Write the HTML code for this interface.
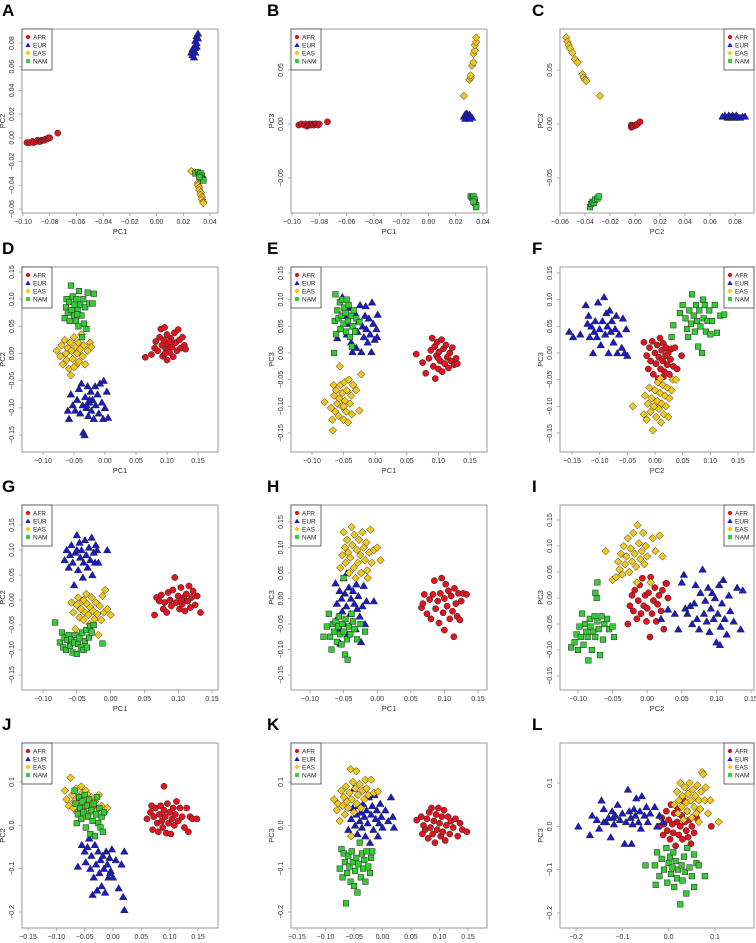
<!DOCTYPE html>
<html><head><meta charset="utf-8"><style>
body{margin:0;background:#fff}
svg{display:block;font-family:"Liberation Sans",sans-serif}
</style></head><body>
<svg id="fig" width="756" height="943" viewBox="0 0 756 943" xmlns="http://www.w3.org/2000/svg"></svg>
<script>
const groups=["AFR","EUR","EAS","NAM"];
const groupColors=["#e0141e","#1a1acc","#f2c81e","#33cc33"];
const ticks2a=[-0.10,-0.08,-0.06,-0.04,-0.02,0.00,0.02,0.04];
const ticksA_y=[-0.06,-0.04,-0.02,0.00,0.02,0.04,0.06,0.08];
const ticksBC_y=[-0.05,0.00,0.05];
const ticksC_x=[-0.06,-0.04,-0.02,0.00,0.02,0.04,0.06,0.08];
const ticks15=[-0.15,-0.10,-0.05,0.00,0.05,0.10,0.15];
const ticksJ_y=[-0.2,-0.1,0.0,0.1];
const ticksL_x=[-0.2,-0.1,0.0,0.1];

const A_AFR=[[-0.097,-0.004],[-0.095,-0.004],[-0.093,-0.003],[-0.092,-0.004],[-0.090,-0.003],[-0.089,-0.002],[-0.088,-0.003],[-0.087,-0.003],[-0.086,-0.002],[-0.085,-0.002],[-0.084,-0.002],[-0.083,-0.001],[-0.082,-0.001],[-0.081,0.000],[-0.080,0.000],[-0.074,0.004]];
const A_EUR=[[0.027,0.070],[0.028,0.068],[0.026,0.072],[0.028,0.074],[0.029,0.076],[0.027,0.075],[0.029,0.078],[0.030,0.080],[0.029,0.082],[0.031,0.084],[0.030,0.086],[0.031,0.088],[0.029,0.072],[0.030,0.077]];
const A_EAS=[[0.026,-0.028],[0.031,-0.038],[0.031,-0.040],[0.032,-0.042],[0.032,-0.044],[0.033,-0.046],[0.033,-0.048],[0.034,-0.050],[0.034,-0.052],[0.035,-0.054],[0.035,-0.055]];
const A_NAM=[[0.029,-0.030],[0.031,-0.029],[0.032,-0.031],[0.033,-0.030],[0.034,-0.032],[0.033,-0.034],[0.035,-0.035],[0.035,-0.036],[0.032,-0.033]];
const B_AFR=[[-0.095,-0.001],[-0.093,0.000],[-0.091,-0.001],[-0.090,0.000],[-0.089,-0.002],[-0.088,-0.001],[-0.087,0.000],[-0.086,-0.001],[-0.085,0.000],[-0.084,-0.001],[-0.083,0.000],[-0.082,0.000],[-0.081,-0.001],[-0.080,0.000],[-0.074,0.002]];
const B_EUR=[[0.026,0.007],[0.027,0.009],[0.028,0.010],[0.029,0.008],[0.030,0.009],[0.031,0.007],[0.032,0.006],[0.029,0.006],[0.027,0.005],[0.030,0.005]];
const B_EAS=[[0.026,0.026],[0.030,0.041],[0.031,0.043],[0.031,0.045],[0.032,0.054],[0.033,0.057],[0.033,0.065],[0.034,0.068],[0.034,0.073],[0.035,0.076],[0.035,0.080]];
const B_NAM=[[0.031,-0.067],[0.032,-0.068],[0.033,-0.067],[0.034,-0.070],[0.034,-0.073],[0.035,-0.075],[0.035,-0.077],[0.033,-0.072]];
const C_AFR=[[-0.003,-0.001],[-0.003,-0.003],[-0.002,-0.002],[-0.001,-0.002],[0.000,-0.001],[0.001,-0.001],[0.002,0.000],[0.004,0.002]];
const C_EUR=[[0.070,0.007],[0.072,0.008],[0.074,0.006],[0.075,0.008],[0.076,0.007],[0.077,0.006],[0.078,0.008],[0.079,0.007],[0.080,0.006],[0.081,0.008],[0.082,0.007],[0.084,0.006],[0.086,0.007],[0.088,0.007]];
const C_EAS=[[-0.055,0.080],[-0.054,0.076],[-0.053,0.073],[-0.052,0.070],[-0.050,0.066],[-0.048,0.060],[-0.046,0.057],[-0.042,0.046],[-0.041,0.043],[-0.040,0.041],[-0.039,0.040],[-0.028,0.026]];
const C_NAM=[[-0.036,-0.077],[-0.035,-0.074],[-0.034,-0.072],[-0.033,-0.073],[-0.032,-0.070],[-0.030,-0.069],[-0.029,-0.067]];
const D_AFR=[[0.065,-0.007],[0.075,-0.002],[0.080,0.010],[0.082,0.022],[0.085,0.005],[0.088,0.030],[0.090,0.045],[0.092,0.015],[0.093,-0.005],[0.095,0.025],[0.096,0.048],[0.098,0.008],[0.100,0.035],[0.100,-0.012],[0.102,0.018],[0.104,0.002],[0.106,0.028],[0.108,0.012],[0.110,-0.006],[0.112,0.038],[0.114,0.020],[0.116,0.005],[0.118,0.044],[0.120,0.025],[0.122,0.010],[0.125,0.030],[0.128,0.015],[0.130,0.008],[0.105,0.022],[0.097,0.000]];
const D_EUR=[[-0.060,-0.105],[-0.058,-0.120],[-0.055,-0.075],[-0.052,-0.095],[-0.048,-0.105],[-0.045,-0.085],[-0.042,-0.065],[-0.040,-0.110],[-0.038,-0.055],[-0.036,-0.095],[-0.035,-0.145],[-0.033,-0.150],[-0.032,-0.080],[-0.030,-0.100],[-0.028,-0.060],[-0.027,-0.115],[-0.025,-0.090],[-0.023,-0.070],[-0.022,-0.105],[-0.020,-0.085],[-0.018,-0.120],[-0.016,-0.060],[-0.015,-0.095],[-0.012,-0.075],[-0.010,-0.110],[-0.008,-0.055],[-0.005,-0.090],[-0.003,-0.120],[0.000,-0.100],[0.003,-0.070],[0.005,-0.118],[-0.002,-0.050],[-0.025,-0.085],[-0.030,-0.095]];
const D_EAS=[[-0.078,0.005],[-0.072,-0.005],[-0.070,0.015],[-0.068,-0.020],[-0.065,0.025],[-0.063,0.000],[-0.062,-0.012],[-0.060,0.010],[-0.058,-0.028],[-0.056,0.020],[-0.055,-0.040],[-0.054,0.005],[-0.052,-0.010],[-0.050,0.030],[-0.048,0.012],[-0.047,-0.022],[-0.045,0.000],[-0.043,0.020],[-0.042,-0.015],[-0.040,0.008],[-0.038,0.035],[-0.036,-0.005],[-0.034,0.015],[-0.032,-0.020],[-0.028,0.005],[-0.024,0.020],[-0.022,0.012],[-0.050,-0.025]];
const D_NAM=[[-0.065,0.065],[-0.063,0.085],[-0.062,0.100],[-0.060,0.075],[-0.058,0.095],[-0.057,0.060],[-0.055,0.125],[-0.054,0.080],[-0.052,0.105],[-0.050,0.070],[-0.049,0.090],[-0.047,0.060],[-0.046,0.100],[-0.044,0.080],[-0.043,0.050],[-0.042,0.115],[-0.040,0.090],[-0.038,0.070],[-0.037,0.030],[-0.035,0.100],[-0.034,0.055],[-0.032,0.085],[-0.030,0.045],[-0.028,0.112],[-0.025,0.092],[-0.020,0.092],[-0.018,0.110],[-0.045,0.072]];
const E_AFR=[[0.065,-0.002],[0.075,-0.018],[0.080,-0.038],[0.085,-0.010],[0.088,0.005],[0.090,0.028],[0.092,-0.025],[0.094,0.012],[0.095,-0.048],[0.097,-0.005],[0.098,0.020],[0.100,-0.030],[0.101,0.002],[0.103,-0.015],[0.105,0.025],[0.106,-0.035],[0.108,0.008],[0.110,-0.020],[0.112,0.015],[0.114,-0.008],[0.116,-0.028],[0.118,0.000],[0.120,-0.015],[0.122,0.010],[0.125,-0.022],[0.128,-0.010],[0.130,-0.020],[0.100,-0.010]];
const E_EUR=[[-0.060,0.028],[-0.055,0.045],[-0.052,0.105],[-0.048,0.070],[-0.045,0.035],[-0.042,0.055],[-0.040,0.085],[-0.038,0.020],[-0.035,0.050],[-0.032,0.075],[-0.030,0.010],[-0.028,0.040],[-0.026,0.060],[-0.024,0.090],[-0.022,0.002],[-0.020,0.050],[-0.018,0.030],[-0.016,0.070],[-0.014,0.045],[-0.012,0.020],[-0.010,0.065],[-0.008,0.035],[-0.006,0.002],[-0.005,0.095],[-0.003,0.055],[-0.001,0.025],[0.002,0.045],[0.004,0.072],[0.003,0.030],[-0.015,0.088],[-0.036,0.002]];
const E_EAS=[[-0.080,-0.092],[-0.070,-0.103],[-0.068,-0.125],[-0.067,-0.145],[-0.066,-0.060],[-0.065,-0.080],[-0.063,-0.110],[-0.062,-0.070],[-0.060,-0.095],[-0.058,-0.118],[-0.057,-0.085],[-0.056,-0.025],[-0.055,-0.060],[-0.053,-0.100],[-0.052,-0.075],[-0.050,-0.125],[-0.049,-0.055],[-0.048,-0.090],[-0.046,-0.110],[-0.045,-0.070],[-0.043,-0.130],[-0.042,-0.050],[-0.040,-0.095],[-0.038,-0.080],[-0.037,-0.115],[-0.035,-0.060],[-0.030,-0.070],[-0.025,-0.108],[-0.022,-0.040],[-0.050,-0.100]];
const E_NAM=[[-0.065,0.000],[-0.064,0.060],[-0.063,0.110],[-0.062,0.035],[-0.060,0.080],[-0.058,0.065],[-0.056,0.095],[-0.055,0.045],[-0.053,0.070],[-0.052,0.100],[-0.050,0.055],[-0.049,0.085],[-0.047,0.075],[-0.046,0.040],[-0.045,0.100],[-0.043,0.060],[-0.042,0.090],[-0.040,0.030],[-0.038,0.070],[-0.037,0.012],[-0.036,0.050],[-0.034,0.080],[-0.032,0.040],[-0.030,0.065],[-0.025,0.058]];
const F_AFR=[[-0.020,0.020],[-0.015,-0.005],[-0.012,-0.030],[-0.010,0.010],[-0.008,-0.015],[-0.005,0.022],[-0.003,-0.040],[0.000,0.000],[0.002,-0.020],[0.004,0.015],[0.006,-0.048],[0.007,-0.008],[0.009,0.028],[0.010,-0.030],[0.012,0.005],[0.014,-0.015],[0.015,0.018],[0.017,-0.035],[0.019,-0.005],[0.020,0.010],[0.022,-0.022],[0.024,0.000],[0.026,-0.040],[0.028,-0.012],[0.030,0.008],[0.033,-0.025],[0.036,0.010],[0.040,-0.030],[0.048,-0.005],[0.015,-0.045]];
const F_EUR=[[-0.155,0.040],[-0.148,0.030],[-0.135,0.035],[-0.125,0.090],[-0.122,0.055],[-0.120,0.070],[-0.118,0.030],[-0.115,0.050],[-0.112,0.000],[-0.110,0.040],[-0.108,0.060],[-0.105,0.030],[-0.103,0.095],[-0.100,0.045],[-0.098,0.015],[-0.095,0.060],[-0.092,0.105],[-0.090,0.035],[-0.088,0.075],[-0.086,0.050],[-0.084,0.000],[-0.082,0.080],[-0.080,0.040],[-0.078,0.060],[-0.075,0.020],[-0.072,0.045],[-0.070,0.070],[-0.068,0.000],[-0.065,0.035],[-0.060,0.010],[-0.058,0.065],[-0.055,0.000],[-0.050,-0.005],[-0.052,0.045]];
const F_EAS=[[-0.040,-0.100],[-0.020,-0.115],[-0.018,-0.080],[-0.015,-0.125],[-0.013,-0.095],[-0.010,-0.065],[-0.008,-0.110],[-0.006,-0.085],[-0.004,-0.145],[-0.002,-0.100],[0.000,-0.070],[0.002,-0.120],[0.004,-0.090],[0.005,-0.055],[0.007,-0.105],[0.009,-0.075],[0.011,-0.130],[0.012,-0.095],[0.014,-0.060],[0.016,-0.115],[0.018,-0.080],[0.020,-0.100],[0.022,-0.065],[0.024,-0.120],[0.026,-0.085],[0.030,-0.070],[0.032,-0.050],[0.038,-0.050],[0.010,-0.048]];
const F_NAM=[[0.030,0.030],[0.033,0.052],[0.045,0.075],[0.050,0.090],[0.055,0.065],[0.058,0.045],[0.060,0.030],[0.062,0.080],[0.065,0.055],[0.067,0.110],[0.070,0.070],[0.072,0.040],[0.074,0.090],[0.076,0.060],[0.078,0.012],[0.080,0.080],[0.082,0.050],[0.085,0.000],[0.087,0.100],[0.088,0.065],[0.090,0.090],[0.092,0.040],[0.095,0.060],[0.098,0.080],[0.100,0.035],[0.103,0.060],[0.108,0.090],[0.112,0.038],[0.118,0.070],[0.125,0.072]];
const G_AFR=[[0.065,-0.030],[0.068,0.005],[0.072,-0.002],[0.075,0.010],[0.078,-0.018],[0.080,-0.005],[0.083,-0.025],[0.085,0.015],[0.088,0.000],[0.090,-0.012],[0.092,0.020],[0.095,0.045],[0.097,-0.005],[0.100,0.008],[0.102,-0.018],[0.104,0.025],[0.106,-0.008],[0.108,0.005],[0.110,-0.022],[0.112,0.012],[0.114,-0.002],[0.116,0.028],[0.118,-0.015],[0.120,0.005],[0.122,0.018],[0.125,-0.010],[0.128,0.008],[0.133,-0.025],[0.105,0.000]];
const G_EUR=[[-0.068,0.080],[-0.065,0.100],[-0.062,0.065],[-0.060,0.090],[-0.058,0.110],[-0.056,0.075],[-0.054,0.030],[-0.052,0.095],[-0.050,0.130],[-0.048,0.060],[-0.046,0.115],[-0.045,0.085],[-0.043,0.100],[-0.041,0.045],[-0.040,0.075],[-0.038,0.120],[-0.036,0.090],[-0.034,0.065],[-0.032,0.105],[-0.030,0.080],[-0.028,0.125],[-0.027,0.050],[-0.025,0.095],[-0.023,0.075],[-0.022,0.110],[-0.020,0.100],[-0.018,0.075],[-0.005,0.100],[-0.050,0.100]];
const G_EAS=[[-0.058,-0.005],[-0.055,-0.025],[-0.052,-0.058],[-0.050,-0.010],[-0.048,0.005],[-0.046,-0.035],[-0.044,-0.018],[-0.042,-0.002],[-0.040,-0.040],[-0.038,-0.025],[-0.036,0.012],[-0.035,-0.008],[-0.033,-0.030],[-0.031,-0.048],[-0.030,-0.015],[-0.028,0.005],[-0.026,-0.022],[-0.024,-0.038],[-0.022,-0.005],[-0.020,-0.028],[-0.018,-0.070],[-0.016,-0.012],[-0.014,-0.040],[-0.012,0.008],[-0.010,-0.025],[-0.008,0.020],[-0.005,-0.018],[0.000,-0.030],[-0.040,0.000]];
const G_NAM=[[-0.082,-0.045],[-0.075,-0.085],[-0.072,-0.065],[-0.070,-0.095],[-0.068,-0.075],[-0.066,-0.100],[-0.064,-0.080],[-0.062,-0.070],[-0.060,-0.092],[-0.058,-0.078],[-0.056,-0.105],[-0.054,-0.085],[-0.052,-0.070],[-0.050,-0.108],[-0.048,-0.088],[-0.046,-0.075],[-0.044,-0.095],[-0.042,-0.065],[-0.040,-0.100],[-0.038,-0.082],[-0.036,-0.060],[-0.035,-0.095],[-0.032,-0.075],[-0.030,-0.052],[-0.028,-0.065],[-0.025,-0.050],[-0.012,-0.087]];
const H_AFR=[[0.066,-0.018],[0.068,-0.010],[0.070,0.008],[0.074,-0.030],[0.078,-0.002],[0.080,-0.040],[0.083,0.008],[0.085,0.035],[0.087,-0.020],[0.090,-0.005],[0.092,-0.048],[0.094,0.010],[0.096,0.040],[0.098,-0.028],[0.100,0.000],[0.100,-0.062],[0.102,0.028],[0.104,-0.015],[0.106,0.015],[0.108,-0.040],[0.110,0.005],[0.112,-0.025],[0.114,-0.075],[0.115,0.020],[0.117,-0.010],[0.119,-0.035],[0.121,0.010],[0.123,-0.042],[0.125,-0.005],[0.128,0.010],[0.133,0.008]];
const H_EUR=[[-0.062,0.030],[-0.060,-0.010],[-0.058,-0.035],[-0.056,0.015],[-0.055,-0.060],[-0.053,0.000],[-0.052,-0.025],[-0.050,0.040],[-0.049,-0.050],[-0.048,0.010],[-0.046,-0.015],[-0.045,0.050],[-0.044,-0.070],[-0.042,0.022],[-0.040,-0.030],[-0.039,0.000],[-0.037,-0.045],[-0.036,0.015],[-0.034,-0.010],[-0.032,-0.060],[-0.031,0.028],[-0.030,-0.020],[-0.028,0.005],[-0.026,-0.035],[-0.024,-0.085],[-0.022,-0.015],[-0.020,0.025],[-0.018,-0.050],[-0.016,-0.005],[-0.005,-0.005],[-0.055,-0.088]];
const H_EAS=[[-0.055,0.060],[-0.052,0.085],[-0.050,0.130],[-0.048,0.100],[-0.047,0.070],[-0.045,0.115],[-0.043,0.090],[-0.042,0.050],[-0.040,0.080],[-0.038,0.140],[-0.037,0.105],[-0.035,0.060],[-0.034,0.125],[-0.032,0.040],[-0.030,0.095],[-0.029,0.070],[-0.027,0.115],[-0.025,0.085],[-0.024,0.050],[-0.022,0.130],[-0.020,0.100],[-0.018,0.075],[-0.016,0.110],[-0.014,0.040],[-0.012,0.090],[-0.010,0.135],[-0.008,0.070],[-0.005,0.095],[0.000,0.100],[0.005,0.075],[-0.015,0.055]];
const H_NAM=[[-0.080,-0.075],[-0.075,-0.055],[-0.072,-0.030],[-0.070,-0.075],[-0.068,-0.100],[-0.066,-0.050],[-0.064,-0.065],[-0.062,-0.045],[-0.060,-0.085],[-0.058,-0.055],[-0.057,-0.035],[-0.055,-0.070],[-0.053,-0.090],[-0.052,-0.050],[-0.050,-0.065],[-0.048,-0.110],[-0.047,-0.040],[-0.045,-0.080],[-0.044,-0.120],[-0.042,-0.055],[-0.040,-0.070],[-0.038,-0.030],[-0.036,-0.045],[-0.034,-0.060],[-0.030,-0.080],[-0.025,-0.050],[-0.018,-0.065],[-0.050,0.040]];
const I_AFR=[[-0.028,-0.050],[-0.025,-0.015],[-0.022,0.005],[-0.020,-0.025],[-0.018,0.015],[-0.015,-0.040],[-0.013,-0.005],[-0.011,0.025],[-0.009,-0.030],[-0.007,0.038],[-0.005,-0.015],[-0.003,0.005],[-0.001,-0.045],[0.000,-0.020],[0.002,0.010],[0.004,-0.075],[0.005,0.040],[0.007,-0.030],[0.009,-0.005],[0.011,0.020],[0.013,-0.045],[0.015,-0.012],[0.017,0.005],[0.020,-0.025],[0.022,0.015],[0.024,-0.060],[0.027,0.028],[0.030,0.000],[0.028,0.028]];
const I_EUR=[[0.020,-0.040],[0.030,-0.022],[0.040,-0.030],[0.045,-0.060],[0.050,0.030],[0.053,0.045],[0.055,-0.020],[0.058,-0.030],[0.062,-0.015],[0.065,-0.050],[0.068,-0.010],[0.070,0.025],[0.072,-0.040],[0.075,-0.060],[0.077,0.010],[0.080,0.055],[0.082,-0.030],[0.084,-0.005],[0.086,-0.045],[0.088,0.020],[0.090,-0.065],[0.092,-0.020],[0.094,0.010],[0.096,-0.040],[0.098,0.000],[0.100,-0.085],[0.102,-0.030],[0.104,0.025],[0.106,-0.055],[0.108,-0.010],[0.110,0.035],[0.112,-0.040],[0.115,-0.070],[0.118,0.005],[0.120,-0.025],[0.125,-0.045],[0.130,0.020],[0.135,-0.060],[0.138,0.015],[0.105,-0.090]];
const I_EAS=[[-0.060,0.090],[-0.050,0.035],[-0.045,0.040],[-0.042,0.070],[-0.040,0.055],[-0.038,0.085],[-0.036,0.045],[-0.034,0.100],[-0.032,0.065],[-0.030,0.080],[-0.028,0.115],[-0.026,0.050],[-0.024,0.095],[-0.022,0.070],[-0.020,0.125],[-0.018,0.085],[-0.016,0.060],[-0.014,0.140],[-0.012,0.105],[-0.010,0.075],[-0.008,0.090],[-0.006,0.125],[-0.004,0.065],[-0.002,0.100],[0.000,0.080],[0.005,0.030],[0.008,0.115],[0.012,0.090],[0.018,0.120],[0.022,0.080],[-0.015,0.030]];
const I_NAM=[[-0.110,-0.095],[-0.105,-0.085],[-0.102,-0.070],[-0.100,-0.100],[-0.098,-0.055],[-0.096,-0.075],[-0.094,-0.030],[-0.092,-0.090],[-0.090,-0.050],[-0.088,-0.065],[-0.086,-0.075],[-0.085,-0.120],[-0.083,-0.040],[-0.082,-0.055],[-0.080,-0.100],[-0.078,-0.065],[-0.076,-0.035],[-0.075,-0.075],[-0.073,0.000],[-0.072,-0.045],[-0.070,-0.060],[-0.068,-0.110],[-0.066,-0.035],[-0.064,-0.080],[-0.062,-0.050],[-0.058,-0.040],[-0.055,-0.060],[-0.050,-0.055],[-0.048,-0.075],[-0.072,0.030],[-0.075,0.010]];
const J_AFR=[[0.060,0.015],[0.066,0.030],[0.068,0.045],[0.070,-0.010],[0.072,0.020],[0.075,0.040],[0.078,0.005],[0.080,-0.015],[0.082,0.025],[0.084,0.045],[0.086,0.010],[0.088,-0.005],[0.090,0.090],[0.090,0.035],[0.092,0.020],[0.094,-0.018],[0.096,0.050],[0.098,0.005],[0.100,0.030],[0.102,-0.020],[0.104,0.015],[0.106,0.040],[0.108,0.000],[0.110,0.025],[0.112,0.055],[0.115,0.010],[0.118,0.040],[0.122,0.020],[0.126,-0.005],[0.130,0.040],[0.133,-0.015],[0.136,0.020],[0.140,0.015],[0.148,0.015]];
const J_EUR=[[-0.062,-0.095],[-0.055,-0.045],[-0.050,-0.060],[-0.048,-0.085],[-0.045,-0.050],[-0.042,-0.030],[-0.040,-0.100],[-0.038,-0.070],[-0.036,-0.160],[-0.034,-0.120],[-0.032,-0.045],[-0.030,-0.090],[-0.028,-0.150],[-0.026,-0.060],[-0.024,-0.110],[-0.022,-0.080],[-0.020,-0.140],[-0.018,-0.070],[-0.016,-0.100],[-0.014,-0.155],[-0.012,-0.060],[-0.010,-0.090],[-0.008,-0.120],[-0.006,-0.075],[-0.004,-0.105],[-0.002,-0.055],[0.000,-0.120],[0.005,-0.080],[0.010,-0.145],[0.015,-0.090],[0.018,-0.165],[0.020,-0.060],[0.020,-0.195],[-0.005,-0.110]];
const J_EAS=[[-0.085,0.080],[-0.082,0.060],[-0.078,0.045],[-0.075,0.110],[-0.072,0.070],[-0.070,0.040],[-0.068,0.055],[-0.065,0.085],[-0.063,0.030],[-0.060,0.065],[-0.058,0.045],[-0.056,0.090],[-0.054,0.075],[-0.052,0.020],[-0.050,0.060],[-0.048,0.080],[-0.046,0.040],[-0.044,0.070],[-0.042,0.050],[-0.040,0.030],[-0.038,0.065],[-0.035,0.045],[-0.032,0.055],[-0.028,0.035],[-0.025,0.070],[-0.020,0.045],[-0.015,0.030],[-0.010,0.040]];
const J_NAM=[[-0.068,0.080],[-0.066,0.050],[-0.064,0.005],[-0.062,0.025],[-0.060,0.065],[-0.058,0.040],[-0.056,0.015],[-0.054,0.055],[-0.052,0.030],[-0.050,0.070],[-0.048,-0.005],[-0.046,0.045],[-0.044,0.020],[-0.042,0.060],[-0.040,-0.020],[-0.038,0.035],[-0.036,0.010],[-0.034,0.050],[-0.032,-0.025],[-0.030,0.025],[-0.028,0.065],[-0.026,0.005],[-0.024,0.040],[-0.022,-0.005],[-0.020,0.020],[-0.018,-0.015],[-0.016,0.030]];
const K_AFR=[[0.060,0.012],[0.068,0.020],[0.070,-0.020],[0.072,0.000],[0.075,-0.010],[0.078,0.015],[0.080,-0.030],[0.082,0.030],[0.084,-0.005],[0.086,0.040],[0.088,-0.020],[0.090,0.010],[0.092,-0.040],[0.094,0.025],[0.096,-0.010],[0.098,0.040],[0.100,0.005],[0.102,-0.025],[0.104,0.020],[0.106,-0.015],[0.108,0.035],[0.110,-0.035],[0.112,0.000],[0.115,0.020],[0.118,-0.020],[0.120,0.010],[0.124,-0.005],[0.128,0.015],[0.132,-0.025],[0.136,0.005],[0.140,-0.010],[0.148,-0.015]];
const K_EUR=[[-0.060,-0.010],[-0.055,0.015],[-0.052,0.040],[-0.050,0.085],[-0.048,0.000],[-0.046,0.025],[-0.044,-0.020],[-0.042,0.045],[-0.040,0.010],[-0.038,0.030],[-0.036,-0.005],[-0.034,0.050],[-0.032,0.020],[-0.030,-0.025],[-0.028,0.035],[-0.026,0.005],[-0.024,0.065],[-0.022,-0.040],[-0.020,0.025],[-0.018,0.045],[-0.016,-0.010],[-0.014,0.070],[-0.012,0.015],[-0.010,0.035],[-0.008,-0.025],[-0.006,0.005],[-0.004,0.050],[-0.002,0.020],[0.000,-0.005],[0.005,0.035],[0.010,0.010],[0.015,0.065],[0.018,0.020],[0.020,-0.005]];
const K_EAS=[[-0.085,0.060],[-0.080,0.035],[-0.078,0.050],[-0.075,0.010],[-0.072,0.080],[-0.070,0.045],[-0.068,0.065],[-0.066,0.025],[-0.064,0.090],[-0.062,0.055],[-0.060,0.040],[-0.058,0.075],[-0.056,0.130],[-0.055,-0.025],[-0.054,0.060],[-0.052,0.100],[-0.050,0.030],[-0.048,0.085],[-0.046,0.125],[-0.045,0.050],[-0.043,0.070],[-0.040,0.095],[-0.038,0.040],[-0.035,0.080],[-0.032,0.060],[-0.030,0.105],[-0.028,0.085],[-0.025,0.070],[-0.020,0.105],[-0.015,0.075],[-0.008,0.078]];
const K_NAM=[[-0.075,-0.100],[-0.072,-0.055],[-0.070,-0.120],[-0.068,-0.065],[-0.066,-0.085],[-0.064,-0.180],[-0.062,-0.110],[-0.060,-0.070],[-0.058,-0.095],[-0.056,-0.130],[-0.054,-0.060],[-0.052,-0.085],[-0.050,-0.140],[-0.048,-0.105],[-0.046,-0.075],[-0.044,-0.155],[-0.042,-0.090],[-0.040,-0.040],[-0.038,-0.120],[-0.036,-0.065],[-0.034,-0.100],[-0.032,-0.080],[-0.030,-0.130],[-0.028,-0.060],[-0.025,-0.095],[-0.022,-0.110],[-0.020,-0.075],[-0.018,-0.060]];
const L_AFR=[[-0.020,0.000],[-0.015,0.020],[-0.012,-0.020],[-0.010,0.005],[-0.005,0.035],[-0.003,-0.010],[0.000,0.015],[0.003,-0.030],[0.005,0.050],[0.008,0.005],[0.010,-0.015],[0.012,0.030],[0.015,-0.045],[0.018,0.010],[0.020,0.040],[0.022,-0.020],[0.025,0.000],[0.028,0.025],[0.030,-0.030],[0.032,0.060],[0.035,0.010],[0.038,-0.010],[0.040,0.035],[0.042,-0.025],[0.045,0.015],[0.048,-0.040],[0.050,0.000],[0.055,-0.015],[0.060,0.020],[0.092,0.000]];
const L_EUR=[[-0.195,0.000],[-0.170,-0.020],[-0.165,0.025],[-0.155,0.015],[-0.150,-0.005],[-0.145,0.060],[-0.140,0.040],[-0.135,0.010],[-0.130,0.020],[-0.125,-0.025],[-0.122,0.035],[-0.118,0.005],[-0.115,0.025],[-0.110,0.050],[-0.105,0.015],[-0.100,0.030],[-0.095,-0.040],[-0.092,0.010],[-0.088,0.085],[-0.085,0.035],[-0.082,0.020],[-0.080,-0.040],[-0.078,0.005],[-0.075,0.040],[-0.072,0.025],[-0.070,0.065],[-0.065,0.010],[-0.062,0.035],[-0.060,-0.005],[-0.058,0.070],[-0.052,0.025],[-0.048,0.045],[-0.045,0.010],[-0.040,0.030],[-0.030,0.045],[-0.025,0.000],[-0.020,0.025],[-0.012,0.010],[-0.140,0.010],[-0.120,0.020]];
const L_EAS=[[0.012,0.050],[0.018,0.080],[0.020,0.030],[0.022,0.060],[0.025,0.100],[0.028,0.045],[0.030,0.070],[0.032,0.015],[0.035,0.090],[0.038,0.055],[0.040,0.035],[0.042,0.075],[0.045,0.100],[0.048,0.060],[0.050,0.020],[0.052,0.085],[0.055,0.045],[0.058,0.070],[0.060,0.030],[0.062,0.095],[0.065,0.060],[0.068,0.040],[0.070,0.080],[0.072,0.125],[0.075,0.120],[0.078,0.060],[0.080,0.090],[0.085,0.030],[0.090,0.060],[0.108,0.010],[0.065,0.010]];
const L_NAM=[[-0.050,-0.090],[-0.030,-0.090],[-0.028,-0.135],[-0.025,-0.060],[-0.020,-0.115],[-0.015,-0.075],[-0.010,-0.100],[-0.005,-0.050],[-0.003,-0.130],[0.000,-0.085],[0.003,-0.070],[0.005,-0.110],[0.008,-0.095],[0.010,-0.060],[0.012,-0.140],[0.015,-0.080],[0.018,-0.120],[0.020,-0.100],[0.025,-0.180],[0.028,-0.090],[0.030,-0.125],[0.033,-0.070],[0.035,-0.105],[0.038,-0.155],[0.040,-0.050],[0.045,-0.095],[0.050,-0.115],[0.055,-0.065],[0.060,-0.085],[0.065,-0.090],[0.078,-0.115],[0.055,-0.140]];

const panelData={A:[A_AFR,A_EUR,A_EAS,A_NAM],B:[B_AFR,B_EUR,B_EAS,B_NAM],C:[C_AFR,C_EUR,C_EAS,C_NAM],D:[D_AFR,D_EUR,D_EAS,D_NAM],E:[E_AFR,E_EUR,E_EAS,E_NAM],F:[F_AFR,F_EUR,F_EAS,F_NAM],G:[G_AFR,G_EUR,G_EAS,G_NAM],H:[H_AFR,H_EUR,H_EAS,H_NAM],I:[I_AFR,I_EUR,I_EAS,I_NAM],J:[J_AFR,J_EUR,J_EAS,J_NAM],K:[K_AFR,K_EUR,K_EAS,K_NAM],L:[L_AFR,L_EUR,L_EAS,L_NAM]};

// layout: box, axis calibration (value->pixel pairs)
const colX=[[22,218],[291,487],[560,754]];
const rowY=[[29,213],[267,452],[505,690],[743,928]];
const letterDx=[-20,-24,-28];
const panels=[
 {id:"A",c:0,r:0,xl:"PC1",yl:"PC2",xc:[-0.10,23,0.04,210],yc:[0.08,43,-0.06,209],xt:ticks2a,yt:ticksA_y,leg:"left",fmt:2},
 {id:"B",c:1,r:0,xl:"PC1",yl:"PC3",xc:[-0.10,292,0.04,483],yc:[0.05,70,-0.05,178],xt:ticks2a,yt:ticksBC_y,leg:"left",fmt:2},
 {id:"C",c:2,r:0,xl:"PC2",yl:"PC3",xc:[-0.06,560,0.08,735],yc:[0.05,70,-0.05,178],xt:ticksC_x,yt:ticksBC_y,leg:"right",fmt:2},
 {id:"D",c:0,r:1,xl:"PC1",yl:"PC2",xc:[-0.10,43,0.15,198],yc:[0.15,272,-0.15,435],xt:ticks15.slice(1),yt:ticks15,leg:"left",fmt:2},
 {id:"E",c:1,r:1,xl:"PC1",yl:"PC3",xc:[-0.10,312,0.15,470],yc:[0.15,273,-0.15,433],xt:ticks15.slice(1),yt:ticks15,leg:"left",fmt:2},
 {id:"F",c:2,r:1,xl:"PC2",yl:"PC3",xc:[-0.15,572,0.15,738],yc:[0.15,273,-0.15,433],xt:ticks15,yt:ticks15,leg:"right",fmt:2},
 {id:"G",c:0,r:2,xl:"PC1",yl:"PC2",xc:[-0.10,43,0.15,212],yc:[0.15,525,-0.15,675],xt:ticks15.slice(1),yt:ticks15,leg:"left",fmt:2},
 {id:"H",c:1,r:2,xl:"PC1",yl:"PC3",xc:[-0.10,310,0.15,478],yc:[0.15,522,-0.15,675],xt:ticks15.slice(1),yt:ticks15,leg:"left",fmt:2},
 {id:"I",c:2,r:2,xl:"PC2",yl:"PC3",xc:[-0.10,578,0.15,751],yc:[0.15,520,-0.15,676],xt:ticks15.slice(1),yt:ticks15,leg:"right",fmt:2},
 {id:"J",c:0,r:3,xl:"PC1",yl:"PC2",xc:[-0.15,28,0.15,198],yc:[0.1,782,-0.2,912],xt:ticks15,yt:ticksJ_y,leg:"left",fmt:2,yfmt:1},
 {id:"K",c:1,r:3,xl:"PC1",yl:"PC3",xc:[-0.15,297,0.15,468],yc:[0.1,782,-0.2,912],xt:ticks15,yt:ticksJ_y,leg:"left",fmt:2,yfmt:1},
 {id:"L",c:2,r:3,xl:"PC2",yl:"PC3",xc:[-0.2,576,0.1,715],yc:[0.1,783,-0.2,913],xt:ticksL_x,yt:ticksJ_y,leg:"right",fmt:1,yfmt:1}
];
const NS="http://www.w3.org/2000/svg";
const svg=document.getElementById("fig");
function mk(tag,attrs,parent){const e=document.createElementNS(NS,tag);for(const k in attrs)e.setAttribute(k,attrs[k]);(parent||svg).appendChild(e);return e;}
function lin(c){return v=>c[1]+(v-c[0])*(c[3]-c[1])/(c[2]-c[0]);}
function lab(v,d){let s=v.toFixed(d);if(Math.abs(v)<1e-9)s=(0).toFixed(d);return s.replace("-","\u2212");}
function marker(g,gi,px,py,parent,s){
  s=s||1;const col=groupColors[gi];let e;
  const st={fill:col,stroke:"#222","stroke-width":0.5};
  if(gi===0){e=mk("circle",Object.assign({cx:px,cy:py,r:3.1*s},st),parent);}
  else if(gi===1){const h=3.6*s;e=mk("polygon",Object.assign({points:`${px},${py-h} ${px-h*1.05},${py+h*0.8} ${px+h*1.05},${py+h*0.8}`},st),parent);}
  else if(gi===2){const h=3.8*s;e=mk("polygon",Object.assign({points:`${px},${py-h} ${px+h},${py} ${px},${py+h} ${px-h},${py}`},st),parent);}
  else{const h=2.8*s;e=mk("rect",Object.assign({x:px-h,y:py-h,width:2*h,height:2*h},st),parent);}
  return e;
}
panels.forEach(p=>{
  const [x0,x1]=colX[p.c],[y0,y1]=rowY[p.r];
  const g=mk("g",{});
  
  
  const sx=lin(p.xc),sy=lin(p.yc);
  const letter=mk("text",{x:x0+letterDx[p.c],y:y0-13,"font-size":17,"font-weight":"bold",fill:"#000"},g);
  letter.textContent=p.id;
  
  
  const box=mk("rect",{x:x0,y:y0,width:x1-x0,height:y1-y0,fill:"none",stroke:"#999","stroke-width":1},g);
  
  
  p.xt.forEach(v=>{const px=sx(v);
    mk("line",{x1:px,y1:y1,x2:px,y2:y1+3,stroke:"#999","stroke-width":0.8},g);
    const t=mk("text",{x:px,y:y1+11,"font-size":7,"text-anchor":"middle",fill:"#333"},g);t.textContent=lab(v,p.fmt);
    
    
  });
  p.yt.forEach(v=>{const py=sy(v);
    mk("line",{x1:x0-3,y1:py,x2:x0,y2:py,stroke:"#999","stroke-width":0.8},g);
    const tx=x0-8;
    const t=mk("text",{x:tx,y:py,"font-size":7,"text-anchor":"middle",fill:"#333",transform:`rotate(-90 ${tx} ${py})`},g);t.textContent=lab(v,p.yfmt||2);
    
    
  });
  const xlab=mk("text",{x:(x0+x1)/2,y:y1+21,"font-size":7.5,"text-anchor":"middle",fill:"#333"},g);xlab.textContent=p.xl;
  
  
  const yx=x0-17,yy=(y0+y1)/2;
  const ylab=mk("text",{x:yx,y:yy,"font-size":7.5,"text-anchor":"middle",fill:"#333",transform:`rotate(-90 ${yx} ${yy})`},g);ylab.textContent=p.yl;
  
  
  const pts=mk("g",{},g);
  
  
  panelData[p.id].forEach((arr,gi)=>{
    arr.forEach(d=>{const m=marker(groups[gi],gi,sx(d[0]),sy(d[1]),pts);
      
      
    });
  });
  const lw=30,lh=41;const lx=p.leg==="left"?x0:x1-lw;const ly=y0;
  const leg=mk("g",{},g);
  
  
  mk("rect",{x:lx,y:ly,width:lw,height:lh,fill:"#fff",stroke:"#444","stroke-width":0.8},leg);
  groups.forEach((name,gi)=>{
    const ey=ly+8+gi*8;
    const ent=mk("g",{},leg);
    
    
    const m=marker(name,gi,lx+6,ey,ent,0.7);m.setAttribute("stroke-width",0);
    const t=mk("text",{x:lx+11,y:ey+2.4,"font-size":6.5,fill:"#222"},ent);t.textContent=name;
  });
});
</script>
</body></html>
